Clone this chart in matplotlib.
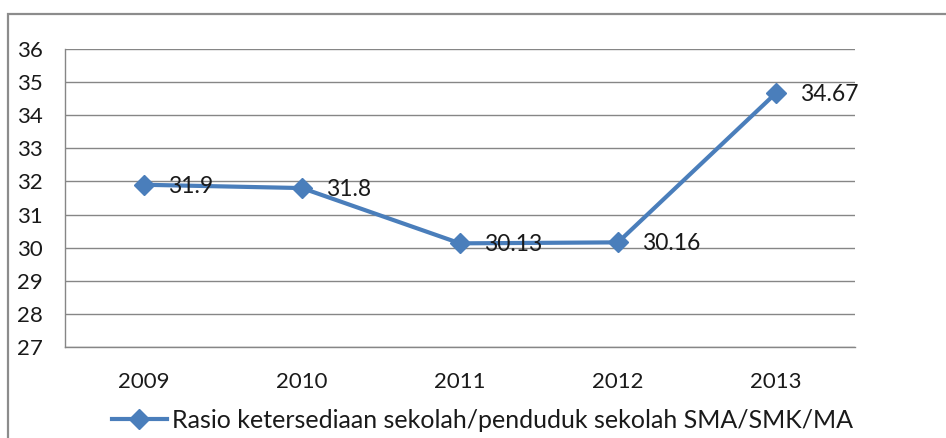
import matplotlib.pyplot as plt
from matplotlib.patches import Rectangle

years = ['2009', '2010', '2011', '2012', '2013']
rasio = [31.9, 31.8, 30.13, 30.16, 34.67]
labels = ['31.9', '31.8', '30.13', '30.16', '34.67']
series_name = 'Rasio ketersediaan sekolah/penduduk sekolah SMA/SMK/MA'

plt.rcParams['font.family'] = ['Lato', 'DejaVu Sans']
blue = '#4A7EBB'
grey = '#868686'

fig = plt.figure(figsize=(9.46, 4.38), dpi=100)
ax = fig.add_axes([0.0687, 0.2078, 0.8351, 0.6803])

x = list(range(len(years)))
line, = ax.plot(x, rasio, color=blue, lw=3, marker='D', markersize=10,
                markerfacecolor=blue, markeredgecolor=blue, label=series_name)

for xi, yi, t in zip(x, rasio, labels):
    ax.annotate(t, (xi, yi), xytext=(17, -1), textcoords='offset points',
                va='center', ha='left', fontsize=16.5, color='#1a1a1a')

ax.set_xlim(-0.5, 4.5)
ax.set_ylim(27, 36)
ax.set_yticks(range(27, 37))
ax.set_xticks(x)
ax.set_xticklabels(years)
ax.tick_params(axis='both', length=0, labelsize=16, colors='#1a1a1a')
ax.tick_params(axis='y', pad=16)
ax.tick_params(axis='x', pad=18)
ax.grid(axis='y', color=grey, lw=1)
ax.set_axisbelow(True)
for s in ['top', 'right']:
    ax.spines[s].set_visible(False)
for s in ['left', 'bottom']:
    ax.spines[s].set_color(grey)
    ax.spines[s].set_linewidth(1)

fig.legend(handles=[line], loc='center', bbox_to_anchor=(0.510, 0.041),
           frameon=False, fontsize=18, handlelength=2.2, handletextpad=0.2,
           borderpad=0, labelcolor='#1a1a1a')

# outer chart border (cropped on right and bottom)
fig.patches.append(Rectangle((8 / 946, -0.1), 1.2, 1 - 14 / 438 + 0.1,
                             transform=fig.transFigure, fill=False,
                             edgecolor='#8c8c8c', lw=1.6))

fig.savefig('out.png', dpi=100)
